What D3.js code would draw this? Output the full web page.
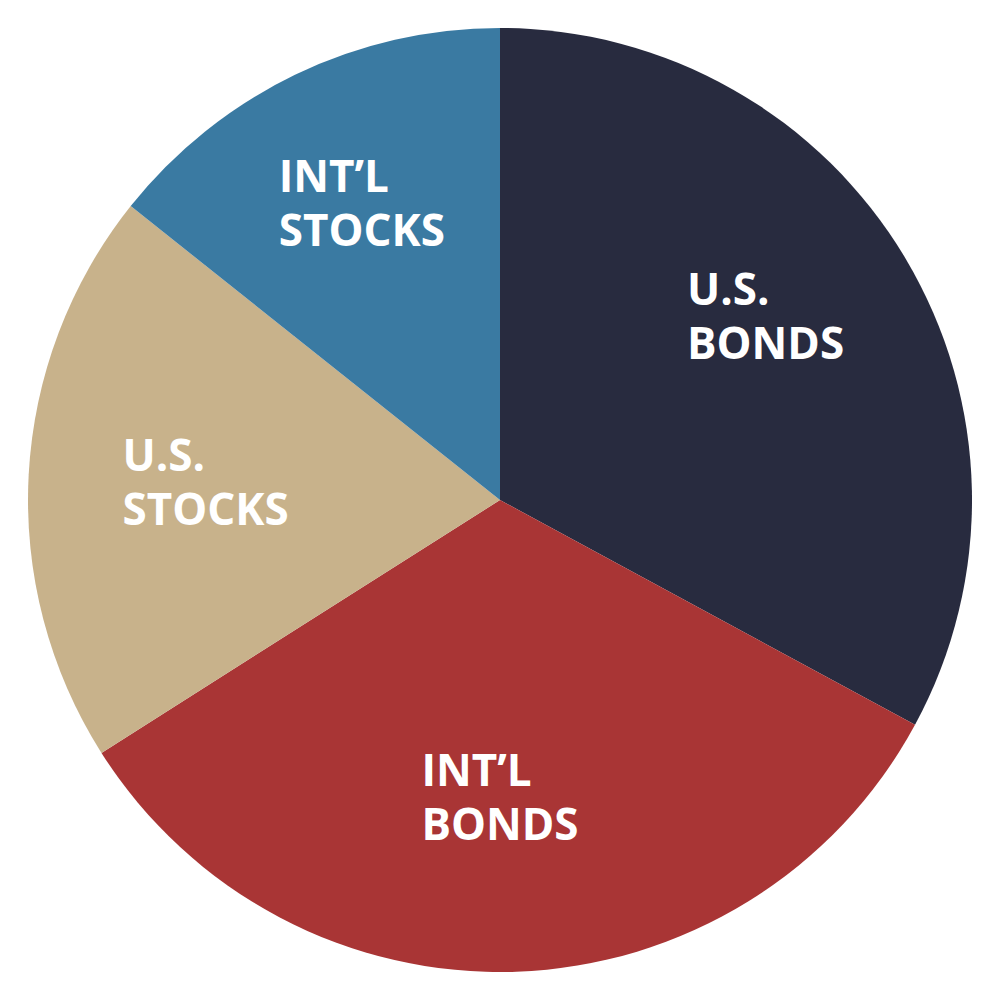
<!DOCTYPE html>
<html>
<head>
<meta charset="utf-8">
<script src="https://cdn.jsdelivr.net/npm/d3@7"></script>
<style>
  html, body { margin: 0; padding: 0; background: #ffffff; }
  svg { display: block; }
</style>
</head>
<body>
<svg id="chart" width="1000" height="1000"></svg>
<script>
const categories = ["U.S. BONDS", "INT\u2019L BONDS", "U.S. STOCKS", "INT\u2019L STOCKS"];
const labelLines = [["U.S.", "BONDS"], ["INT\u2019L", "BONDS"], ["U.S.", "STOCKS"], ["INT\u2019L", "STOCKS"]];
const values = [32.9, 33.1, 19.7, 14.3];
const colors = ["#282b3f", "#a93535", "#c8b28b", "#3a7aa2"];

// layout: label anchor in polar coordinates (degrees clockwise from 12 o'clock, radius px)
const labelAngles = [55.3, 180, 273.5, 335];
const labelRadii = [323, 297, 295, 327];

const svg = d3.select("#chart");
const cx = 500, cy = 500, R = 472;
const g = svg.append("g").attr("transform", `translate(${cx},${cy})`);

const data = categories.map((c, i) => ({ name: c, lines: labelLines[i], value: values[i], color: colors[i] }));

const pie = d3.pie().value(d => d.value).sort(null);
const arc = d3.arc().innerRadius(0).outerRadius(R);
const arcs = pie(data);

g.selectAll("path.slice").data(arcs).join("path")
  .attr("class", "slice")
  .attr("d", arc)
  .attr("fill", d => d.data.color);

const fontSize = 44, lineH = 54;
arcs.forEach((d, k) => {
  const a = labelAngles[k] * Math.PI / 180;
  const x = labelRadii[k] * Math.sin(a);
  const y = -labelRadii[k] * Math.cos(a);
  const t = g.append("text")
    .attr("fill", "#ffffff")
    .attr("font-family", "'Open Sans', sans-serif")
    .attr("font-weight", 700)
    .attr("font-size", fontSize);
  d.data.lines.forEach((ln, i) => {
    t.append("tspan").attr("x", 0).attr("y", i * lineH).text(ln);
  });
  const bb = t.node().getBBox();
  const capH = fontSize * 0.714;
  const blockTop = -capH, blockBottom = (d.data.lines.length - 1) * lineH;
  const tx = x - (bb.x + bb.width / 2);
  const ty = y - (blockTop + blockBottom) / 2;
  t.attr("transform", `translate(${tx},${ty})`);
});
</script>
</body>
</html>
